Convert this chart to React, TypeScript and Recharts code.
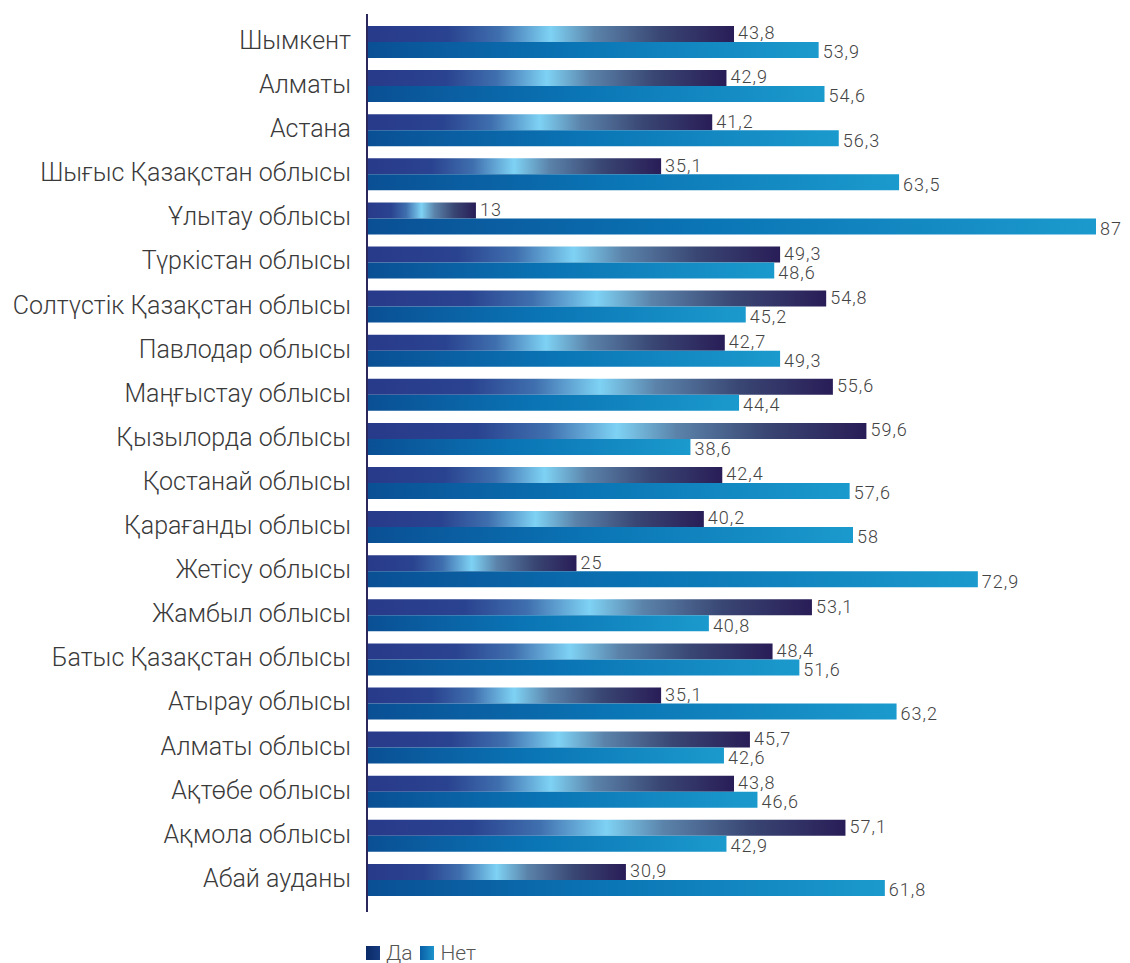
import { Bar, BarChart, LabelList, Legend, XAxis, YAxis } from 'recharts';

const regions = [
  'Шымкент',
  'Алматы',
  'Астана',
  'Шығыс Қазақстан облысы',
  'Ұлытау облысы',
  'Түркістан облысы',
  'Солтүстік Қазақстан облысы',
  'Павлодар облысы',
  'Маңғыстау облысы',
  'Қызылорда облысы',
  'Қостанай облысы',
  'Қарағанды облысы',
  'Жетісу облысы',
  'Жамбыл облысы',
  'Батыс Қазақстан облысы',
  'Атырау облысы',
  'Алматы облысы',
  'Ақтөбе облысы',
  'Ақмола облысы',
  'Абай ауданы',
];

const yesValues = [43.8, 42.9, 41.2, 35.1, 13, 49.3, 54.8, 42.7, 55.6, 59.6, 42.4, 40.2, 25, 53.1, 48.4, 35.1, 45.7, 43.8, 57.1, 30.9];
const noValues = [53.9, 54.6, 56.3, 63.5, 87, 48.6, 45.2, 49.3, 44.4, 38.6, 57.6, 58, 72.9, 40.8, 51.6, 63.2, 42.6, 46.6, 42.9, 61.8];

const data = regions.map((name, i) => ({ name, yes: yesValues[i], no: noValues[i] }));

const FONT = 'Roboto, "Noto Sans", sans-serif';

const formatValue = (v: any) => String(v).replace('.', ',');

const valueStyle = { fill: '#444', fontSize: 18, fontFamily: FONT, fontWeight: 300, letterSpacing: 1 };

const legendSwatch: Record<string, string> = {
  Да: 'linear-gradient(90deg, #0a2a66, #163c80)',
  Нет: 'linear-gradient(90deg, #0a5fa6, #1d93cb)',
};

// eslint-disable-next-line @typescript-eslint/no-explicit-any
function LegendContent(props: any) {
  const { payload = [] } = props;
  return (
    <div style={{ display: 'flex', alignItems: 'center', fontFamily: FONT, fontWeight: 300, fontSize: 21, color: '#555' }}>
      {payload.map((entry: any) => (
        <span key={entry.value} style={{ display: 'flex', alignItems: 'center', marginRight: 8 }}>
          <span
            style={{
              display: 'inline-block',
              width: 14,
              height: 14,
              marginRight: 6,
              background: legendSwatch[entry.value],
            }}
          />
          {entry.value}
        </span>
      ))}
    </div>
  );
}

export default function App() {
  return (
    <div style={{ position: 'absolute', left: 0, top: 0 }}>
      <BarChart
        width={1130}
        height={963}
        data={data}
        layout="vertical"
        margin={{ top: 14, right: 34, bottom: 51, left: 0 }}
        barGap={0}
        barSize={16}
      >
        <defs>
          <linearGradient id="gradYes" x1="0" y1="0" x2="1" y2="0">
            <stop offset="0%" stopColor="#283a8a" />
            <stop offset="22%" stopColor="#2a4390" />
            <stop offset="36%" stopColor="#3f6fae" />
            <stop offset="50%" stopColor="#7ed2f4" />
            <stop offset="62%" stopColor="#5b83aa" />
            <stop offset="80%" stopColor="#394673" />
            <stop offset="100%" stopColor="#291d57" />
          </linearGradient>
          <linearGradient id="gradNo" x1="0" y1="0" x2="1" y2="0">
            <stop offset="0%" stopColor="#0a4f94" />
            <stop offset="45%" stopColor="#0a74b4" />
            <stop offset="100%" stopColor="#1b9acd" />
          </linearGradient>
        </defs>
        <XAxis type="number" domain={[0, 87]} hide />
        <YAxis
          type="category"
          dataKey="name"
          width={367}
          padding={{ top: 6, bottom: 10 }}
          tickLine={false}
          tickSize={0}
          tickMargin={16}
          axisLine={{ stroke: '#2b285e', strokeWidth: 2 }}
          interval={0}
          tick={{ fill: '#3a3a3a', fontSize: 25, fontFamily: FONT, fontWeight: 300, dy: -2 }}
        />
        <Legend
          verticalAlign="middle"
          align="center"
          content={<LegendContent />}
          wrapperStyle={{ position: 'absolute', left: 366, top: 941, width: 200 }}
        />
        <Bar dataKey="yes" name="Да" fill="url(#gradYes)" isAnimationActive={false}>
          <LabelList
            dataKey="yes"
            position="right"
            offset={4}
            dy={-1}
            formatter={formatValue}
            style={valueStyle}
          />
        </Bar>
        <Bar dataKey="no" name="Нет" fill="url(#gradNo)" isAnimationActive={false}>
          <LabelList
            dataKey="no"
            position="right"
            offset={4}
            dy={2}
            formatter={formatValue}
            style={valueStyle}
          />
        </Bar>
      </BarChart>
    </div>
  );
}
